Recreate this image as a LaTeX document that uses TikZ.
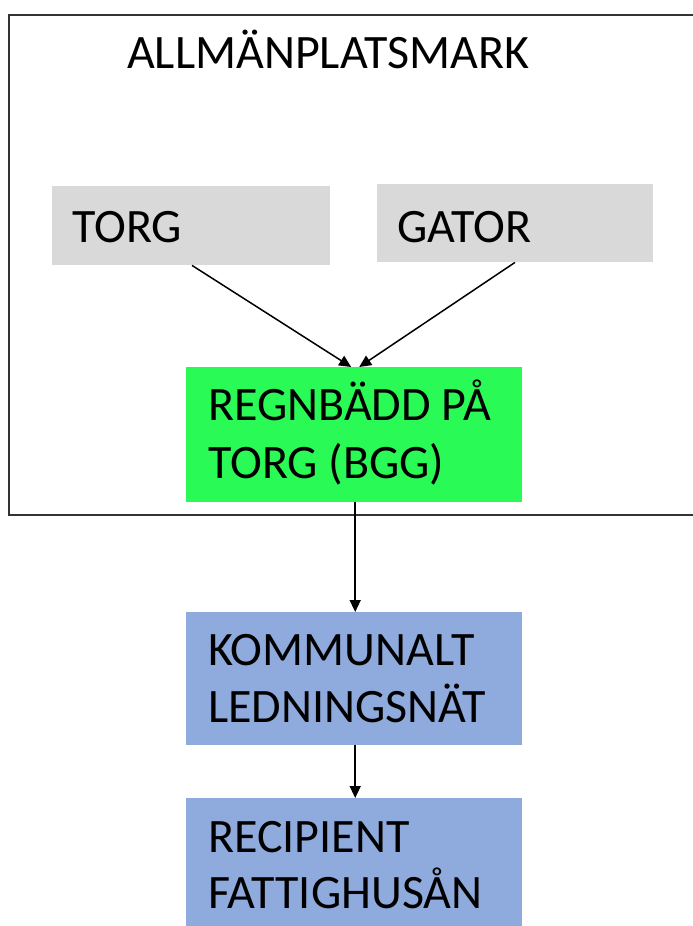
\documentclass[tikz,border=0pt]{standalone}
\usepackage{fontspec}
\setmainfont{Carlito}
\usetikzlibrary{arrows.meta}
\definecolor{boxgrey}{HTML}{D9D9D9}
\definecolor{boxgreen}{HTML}{2AFA55}
\definecolor{boxblue}{HTML}{8FAADC}
\definecolor{framegrey}{HTML}{333333}
\begin{document}
\begin{tikzpicture}[x=1pt,y=-1pt,
  box/.style={draw=none,rectangle,inner sep=0pt,anchor=north west},
  lbl/.style={inner sep=0pt,anchor=base west,font=\fontsize{48}{57}\selectfont},
  flow/.style={line width=1.5pt,-{Triangle[length=12pt,width=11pt]}}]
  \useasboundingbox (0,0) rectangle (693,926);
  \fill[white] (0,0) rectangle (693,926);
  \begin{scope}
    \clip (0,0) rectangle (693,926);
    % outer area, running past the right edge
    \draw[framegrey,line width=2pt] (9,15) rectangle (720,515);
    % boxes
    \node[box,fill=boxgrey,minimum width=278,minimum height=79] (torg) at (52,186) {};
    \node[box,fill=boxgrey,minimum width=276,minimum height=78] (gator) at (377,184) {};
    \node[box,fill=boxgreen,minimum width=336,minimum height=135] (regn) at (186,367) {};
    \node[box,fill=boxblue,minimum width=336,minimum height=133] (komm) at (186,612) {};
    \node[box,fill=boxblue,minimum width=336,minimum height=140] (reci) at (186,798) {};
  \end{scope}
  % labels
  \node[lbl] (titel) at (127,68) {ALLMÄNPLATSMARK};
  \node[lbl] (torgt) at (72,242) {TORG};
  \node[lbl] (gatort) at (397,242) {GATOR};
  \node[lbl] (regn1) at (208,420) {REGNBÄDD PÅ};
  \node[lbl] (regn2) at (208,478) {TORG (BGG)};
  \node[lbl] (komm1) at (208,665) {KOMMUNALT};
  \node[lbl] (komm2) at (208,722) {LEDNINGSNÄT};
  \node[lbl] (reci1) at (208,852) {RECIPIENT};
  \node[lbl] (reci2) at (208,908) {FATTIGHUSÅN};
  % connectors
  \draw[flow] (torg.south -| 192,0) -- ([xshift=-3pt]regn.north);
  \draw[flow] (gator.south -| 515,0) -- ([xshift=5pt]regn.north);
  \draw[flow] ([xshift=1pt]regn.south) -- ([xshift=1pt]komm.north);
  \draw[flow] ([xshift=1pt]komm.south) -- ([xshift=1pt]reci.north);
\end{tikzpicture}
\end{document}
